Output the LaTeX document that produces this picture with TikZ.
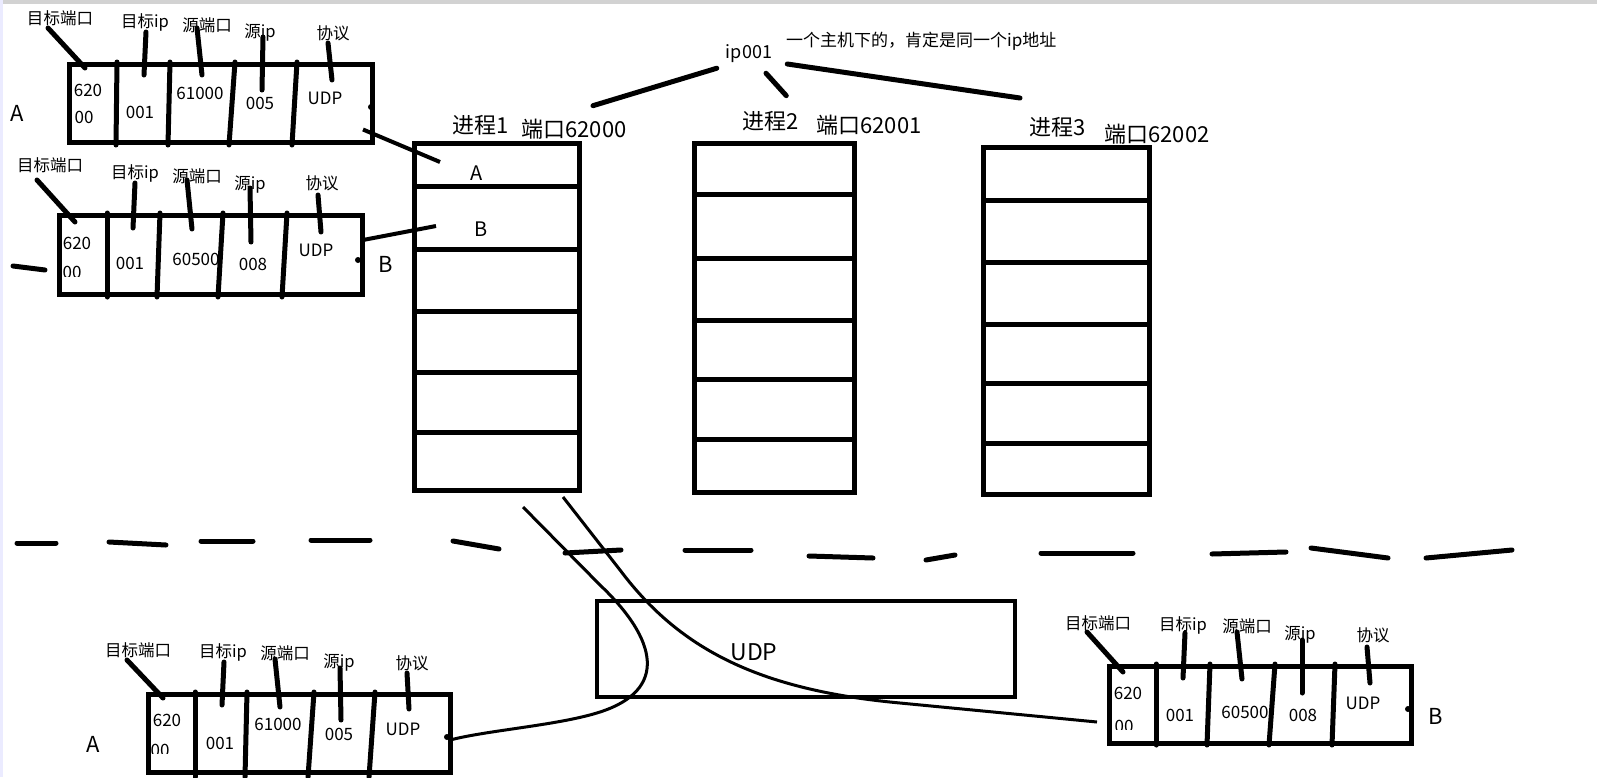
\documentclass[tikz,border=0pt]{standalone}
\usepackage{fontspec}
\setmainfont{Noto Sans CJK SC}
\usetikzlibrary{positioning}

\begin{document}
\begin{tikzpicture}[
    x=1pt, y=-1pt,
    pen/.style={line width=5pt, line cap=round},
    wire/.style={line width=3pt},
    frame/.style={draw, line width=5pt, inner sep=0pt, anchor=north west},
    field/.style={inner sep=0pt, font=\fontsize{17}{17}\selectfont},
    tag/.style={inner sep=0pt, font=\fontsize{16.5}{16.5}\selectfont},
    head/.style={inner sep=0pt, font=\fontsize{22}{22}\selectfont},
    letter/.style={inner sep=0pt, font=\fontsize{22}{22}\selectfont}
]
    \useasboundingbox (0,0) rectangle (1597,777);
    \fill[gray!35] (0,0) rectangle (1597,4);
    \fill[blue!8] (0,0) rectangle (3,777);

    % packet A (top)
    \node (topA) [frame, minimum width=303pt, minimum height=78pt] at (67,62) {};
    \foreach \xa/\xb in {117/116, 170/168, 235/229, 297/292}
        \draw[pen] (\xa,62) -- (\xb,145);
    \node (topA620) [field] at (88,90) {620};
    \begin{scope}
        \clip (70,100) rectangle (112,123);
        \node (topA00) [field, anchor=north] at (84,111) {00};
    \end{scope}
    \node (topAdip) [field] at (140,112) {001};
    \node (topAsport) [field] at (200,93) {61000};
    \node (topAsip) [field] at (260,103) {005};
    \node (topAproto) [field] at (325,98) {UDP};
    \node (topAl1) [tag] at (60,18) {目标端口};
    \node (topAl2) [tag] at (145,22) {目标ip};
    \node (topAl3) [tag] at (207,25) {源端口};
    \node (topAl4) [tag] at (260,33) {源ip};
    \node (topAl5) [tag] at (333,33) {协议};
    \foreach \xa/\ya/\xb/\yb in {48/28/85/68, 146/32/144/75, 197/28/202/75, 263/37/262/90, 328/43/332/80}
        \draw[pen] (\xa,\ya) -- (\xb,\yb);
    \fill (371,107) circle[radius=3pt];
    \node (topAname) [letter] at (17,113) {A};

    % packet B (top)
    \node (topB) [frame, minimum width=303pt, minimum height=79pt] at (57,213) {};
    \foreach \xa/\xb in {107/107, 160/157, 223/218, 287/282}
        \draw[pen] (\xa,213) -- (\xb,297);
    \node (topB620) [field] at (77,243) {620};
    \begin{scope}
        \clip (60,255) rectangle (102,276);
        \node (topB00) [field, anchor=north] at (72,266) {00};
    \end{scope}
    \node (topBdip) [field] at (130,263) {001};
    \node (topBsport) [field] at (196,259) {60500};
    \node (topBsip) [field] at (253,264) {008};
    \node (topBproto) [field] at (316,250) {UDP};
    \node (topBl1) [tag] at (50,165) {目标端口};
    \node (topBl2) [tag] at (135,173) {目标ip};
    \node (topBl3) [tag] at (197,176) {源端口};
    \node (topBl4) [tag] at (250,185) {源ip};
    \node (topBl5) [tag] at (322,183) {协议};
    \foreach \xa/\ya/\xb/\yb in {37/180/75/222, 135/183/133/228, 187/180/192/229, 250/188/251/242, 318/195/321/232, 13/266/45/270}
        \draw[pen] (\xa,\ya) -- (\xb,\yb);
    \fill (358,260) circle[radius=3pt];
    \node (topBname) [letter] at (386,264) {B};

    % processes
    \node (proc1) [frame, minimum width=165pt, minimum height=347pt] at (412,141) {};
    \node (proc2) [frame, minimum width=160pt, minimum height=349pt] at (692,141) {};
    \node (proc3) [frame, minimum width=166pt, minimum height=347pt] at (981,145) {};
    \foreach \y in {186,249,311,372,432}
        \draw[line width=5pt] (412,\y) -- (577,\y);
    \foreach \y in {194,258,320,379,439}
        \draw[line width=5pt] (692,\y) -- (852,\y);
    \foreach \y in {200,262,324,383,443}
        \draw[line width=5pt] (981,\y) -- (1147,\y);
    \node (p1name) [head] at (481,125) {进程1};
    \node (p1port) [head] at (574,129) {端口62000};
    \node (p2name) [head] at (771,121) {进程2};
    \node (p2port) [head] at (869,125) {端口62001};
    \node (p3name) [head] at (1058,127) {进程3};
    \node (p3port) [head] at (1157,134) {端口62002};
    \node (slotA) [letter, font=\fontsize{20}{20}\selectfont] at (477,173) {A};
    \node (slotB) [letter, font=\fontsize{20}{20}\selectfont] at (481,229) {B};

    \draw[line width=4pt] ([shift={(-12,26)}]topA.east) -- ([shift={(28,21)}]proc1.north west);
    \draw[line width=4pt] ([shift={(-2,-15)}]topB.east) -- ([shift={(24,85)}]proc1.north west);

    % shared ip
    \node (ip) [tag, font=\fontsize{18}{18}\selectfont] at (749,54) {ip001};
    \node (note) [tag, anchor=west, font=\fontsize{17}{17}\selectfont] at (786,41) {一个主机下的，肯定是同一个ip地址};
    \draw[pen] ([shift={(-9,5)}]ip.south west) -- ([shift={(19,-13)}]p1port.north);
    \draw[pen] ([shift={(17,10)}]ip.south) -- ([shift={(-30,-19)}]p2port.north west);
    \draw[pen] ([shift={(15,10)}]ip.east) -- (1020,98);

    % network line
    \foreach \xa/\ya/\xb/\yb in {17/543/56/543, 109/542/166/545, 201/541/253/541, 311/540/370/540, 453/541/499/549, 565/553/621/550, 685/550/751/550, 809/556/873/558, 926/560/955/555, 1041/553/1133/553, 1212/554/1286/552, 1311/548/1388/558, 1426/558/1512/550}
        \draw[pen] (\xa,\ya) -- (\xb,\yb);

    % udp layer
    \node (udp) [frame, line width=4pt, minimum width=418pt, minimum height=96pt] at (595,599) {};
    \node (udptext) [head, font=\fontsize{23}{23}\selectfont] at (754,652) {UDP};

    % packet A (bottom)
    \node (botA) [frame, minimum width=302pt, minimum height=78pt] at (146,692) {};
    \foreach \xa/\xb in {195/195, 247/245, 314/308, 375/369}
        \draw[pen] (\xa,692) -- (\xb,777);
    \node (botA620) [field] at (167,720) {620};
    \begin{scope}
        \clip (150,735) rectangle (190,753);
        \node (botA00) [field, anchor=north] at (160,744) {00};
    \end{scope}
    \node (botAdip) [field] at (220,743) {001};
    \node (botAsport) [field] at (278,724) {61000};
    \node (botAsip) [field] at (339,734) {005};
    \node (botAproto) [field] at (403,729) {UDP};
    \node (botAl1) [tag] at (138,650) {目标端口};
    \node (botAl2) [tag] at (223,652) {目标ip};
    \node (botAl3) [tag] at (285,653) {源端口};
    \node (botAl4) [tag] at (339,663) {源ip};
    \node (botAl5) [tag] at (412,663) {协议};
    \foreach \xa/\ya/\xb/\yb in {127/660/163/698, 224/662/222/705, 275/659/280/707, 340/668/341/720, 407/673/409/709}
        \draw[pen] (\xa,\ya) -- (\xb,\yb);
    \node (botAname) [letter] at (93,744) {A};

    % packet B (bottom)
    \node (botB) [frame, minimum width=302pt, minimum height=77pt] at (1107,664) {};
    \foreach \xa/\xb in {1156/1156, 1210/1207, 1275/1269, 1335/1332}
        \draw[pen] (\xa,664) -- (\xb,745);
    \node (botB620) [field] at (1128,693) {620};
    \begin{scope}
        \clip (1110,710) rectangle (1150,729);
        \node (botB00) [field, anchor=north] at (1124,720) {00};
    \end{scope}
    \node (botBdip) [field] at (1180,715) {001};
    \node (botBsport) [field] at (1245,712) {60500};
    \node (botBsip) [field] at (1303,715) {008};
    \node (botBproto) [field] at (1363,703) {UDP};
    \node (botBl1) [tag] at (1098,623) {目标端口};
    \node (botBl2) [tag] at (1183,625) {目标ip};
    \node (botBl3) [tag] at (1247,626) {源端口};
    \node (botBl4) [tag] at (1300,635) {源ip};
    \node (botBl5) [tag] at (1373,635) {协议};
    \foreach \xa/\ya/\xb/\yb in {1087/632/1123/672, 1185/633/1183/678, 1237/632/1242/679, 1302/640/1302/693, 1367/647/1370/683}
        \draw[pen] (\xa,\ya) -- (\xb,\yb);
    \fill (1408,709) circle[radius=3pt];
    \node (botBname) [letter] at (1436,716) {B};

    % delivery paths
    \draw[wire] ([shift={(111,14)}]proc1.south west) -- (600,585)
        .. controls (658,640) and (668,690) .. (600,712)
        .. controls (560,725) and (490,730) .. ([shift={(-1,6)}]botA.east);
    \fill (447,737) circle[radius=3pt];
    \draw[wire] ([shift={(151,4)}]proc1.south west) -- (620,570)
        .. controls (680,650) and (760,690) .. (900,703)
        -- ([shift={(-10,17)}]botB.west);
\end{tikzpicture}
\end{document}
